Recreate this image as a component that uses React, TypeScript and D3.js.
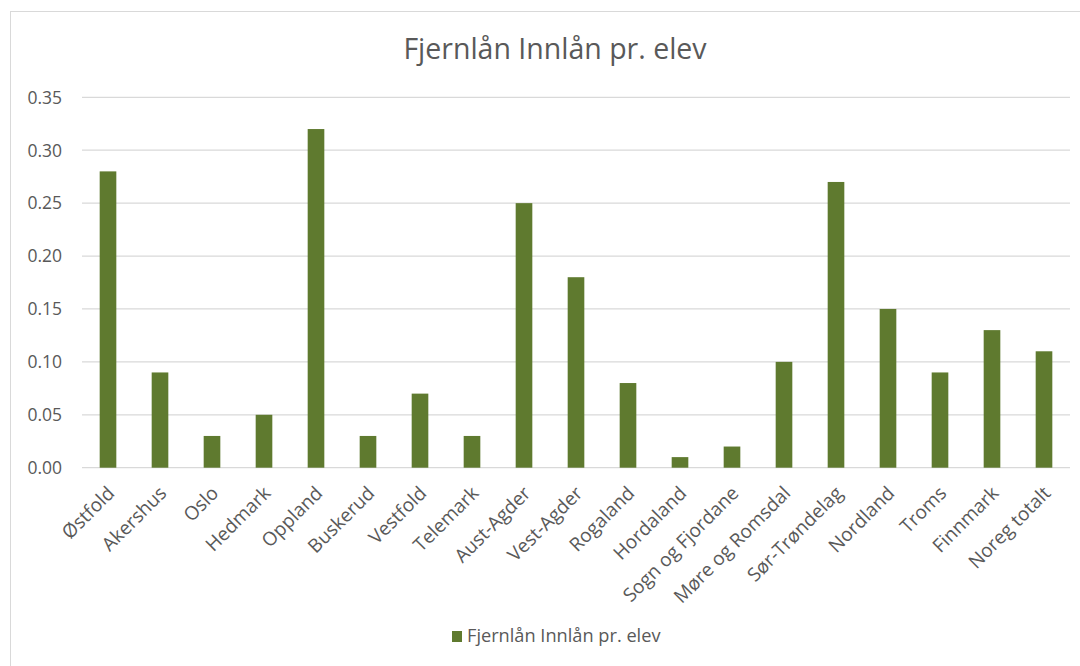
import React from "react";
import * as d3 from "d3";

const categories = ["Østfold","Akershus","Oslo","Hedmark","Oppland","Buskerud","Vestfold","Telemark","Aust-Agder","Vest-Agder","Rogaland","Hordaland","Sogn og Fjordane","Møre og Romsdal","Sør-Trøndelag","Nordland","Troms","Finnmark","Noreg totalt"];
const values = [0.28,0.09,0.03,0.05,0.32,0.03,0.07,0.03,0.25,0.18,0.08,0.01,0.02,0.10,0.27,0.15,0.09,0.13,0.11];
const yTicks = [0,0.05,0.1,0.15,0.2,0.25,0.3,0.35];
const title = "Fjernlån Innlån pr. elev";
const seriesName = "Fjernlån Innlån pr. elev";

export default function App() {
  const W = 1080, H = 666;
  const left = 82, right = 1070, top = 97.3, bottom = 467.7;
  const x = d3.scaleBand<string>().domain(categories).range([left, right]).paddingInner(0.68).paddingOuter(0.34);
  const y = d3.scaleLinear().domain([0, 0.35]).range([bottom, top]);
  const font = "'Open Sans', Lato, sans-serif";
  const color = "#5f7a2f";
  return (
    <svg width={W} height={H} style={{ position: "absolute", left: 0, top: 0, background: "#fff" }}>
      <rect x={10.5} y={11.5} width={W} height={H} fill="#fff" stroke="#d9d9d9" />
      <text x={555} y={59} textAnchor="middle" fontFamily={font} fontSize={28.5} fill="#595959">{title}</text>
      {yTicks.map((t) => (
        <g key={t}>
          <line x1={left} x2={right} y1={y(t)} y2={y(t)} stroke="#d9d9d9" strokeWidth={1.3} />
          <text x={62} y={y(t)} dy="0.36em" textAnchor="end" fontFamily={font} fontSize={17.5} fill="#595959">{d3.format(".2f")(t)}</text>
        </g>
      ))}
      {categories.map((c, i) => (
        <rect key={c} x={x(c)} y={y(values[i])} width={x.bandwidth()} height={bottom - y(values[i])} fill={color} />
      ))}
      {categories.map((c) => {
        const cx = (x(c) as number) + x.bandwidth() / 2 + 3;
        return (
          <text key={c} transform={`translate(${cx},${bottom + 22}) rotate(-45)`} textAnchor="end" dy="0.35em" fontFamily={font} fontSize={19} fill="#595959">{c}</text>
        );
      })}
      <rect x={452} y={631} width={10} height={11} fill={color} />
      <text x={467} y={636} dy="0.35em" fontFamily={font} fontSize={18.2} fill="#595959">{seriesName}</text>
    </svg>
  );
}
